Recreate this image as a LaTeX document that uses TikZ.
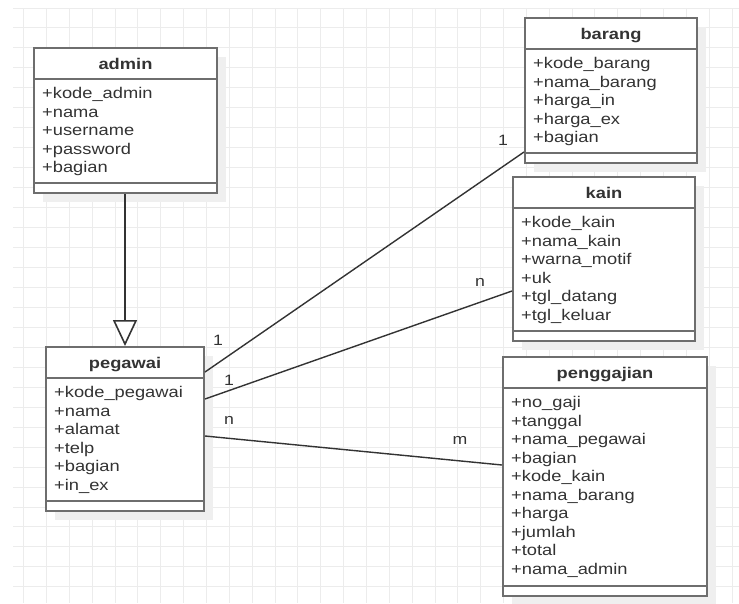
\documentclass[tikz,border=0pt]{standalone}
\usepackage{fontspec}
\setmainfont[FakeStretch=1.18]{Liberation Sans}
\usetikzlibrary{arrows.meta,fit}
\definecolor{txt}{HTML}{333333}
\definecolor{bord}{HTML}{6E6E6E}
\definecolor{gridc}{HTML}{ECECEC}
\definecolor{shad}{HTML}{EFEFEF}
\definecolor{linec}{HTML}{333333}
\tikzset{
  classbox/.style={draw=bord, line width=2pt, fill=white, inner sep=0pt},
  boxline/.style={draw=bord, line width=2pt},
  titletext/.style={anchor=base, inner sep=0pt, text=txt, font=\bfseries\fontsize{15.5}{18.5}\selectfont},
  attrtext/.style={anchor=base west, inner sep=0pt, text=txt, font=\fontsize{15.5}{18.5}\selectfont},
  multlabel/.style={inner sep=0pt, text=txt, font=\fontsize{15}{18}\selectfont},
  assoc/.style={draw=linec, line width=1.4pt},
  gridline/.style={draw=gridc, line width=1pt},
}
\newcommand\umlclass[7]{%
  \fill[shad] (#2+9,#3+9) rectangle (#4+9,#5+9);
  \node[classbox, fit={(#2,#3) (#4,#5)}] (#1) {};
  \draw[boxline] (#2,#3+31) -- (#4,#3+31);
  \draw[boxline] (#2,#5-10) -- (#4,#5-10);
  \node[titletext] (#1-title) at ({(#2+#4)/2},#3+21) {#6};
  \foreach \a [count=\i] in {#7} {\node[attrtext] (#1-a\i) at (#2+8,{#3+50.5+(\i-1)*18.5}) {\a};}
}
\begin{document}
\begin{tikzpicture}[x=1pt,y=-1pt]
\useasboundingbox (0,0) rectangle (739,603);
% grid
\foreach \k in {0,...,31} {\draw[gridline] ({23.7+22.85*\k},8) -- ({23.7+22.85*\k},603);}
\foreach \k in {0,...,29} {\draw[gridline] (13,{8+19.96*\k}) -- (739,{8+19.96*\k});}
% classes
\umlclass{admin}{34}{48}{217}{193}{admin}{+kode\_admin,+nama,+username,+password,+bagian}
\umlclass{barang}{525}{18}{697}{163}{barang}{+kode\_barang,+nama\_barang,+harga\_in,+harga\_ex,+bagian}
\umlclass{kain}{513}{177}{695}{341}{kain}{+kode\_kain,+nama\_kain,+warna\_motif,+uk,+tgl\_datang,+tgl\_keluar}
\umlclass{pegawai}{46}{347}{204}{511}{pegawai}{+kode\_pegawai,+nama,+alamat,+telp,+bagian,+in\_ex}
\umlclass{penggajian}{503}{357}{707}{596}{penggajian}{+no\_gaji,+tanggal,+nama\_pegawai,+bagian,+kode\_kain,+nama\_barang,+harga,+jumlah,+total,+nama\_admin}
% generalization
\draw[draw=linec, line width=1.6pt, -{Triangle[open, length=26pt, width=24pt, fill=white]}] (admin.south -| pegawai.north) -- (pegawai.north);
% associations
\draw[assoc] ([yshift=-26pt]pegawai.north east) -- ([yshift=12pt]barang.south west);
\draw[assoc] ([yshift=-53pt]pegawai.north east) -- ([yshift=-115pt]kain.north west);
\draw[assoc] ([yshift=-90pt]pegawai.north east) -- ([yshift=-109pt]penggajian.north west);
% multiplicities
\node[multlabel] (m1) at (503,140) {1};
\node[multlabel] (m2) at (218,340) {1};
\node[multlabel] (m3) at (480,282) {n};
\node[multlabel] (m4) at (229,380) {1};
\node[multlabel] (m5) at (229,420) {n};
\node[multlabel] (m6) at (460,440) {m};
\end{tikzpicture}
\end{document}
